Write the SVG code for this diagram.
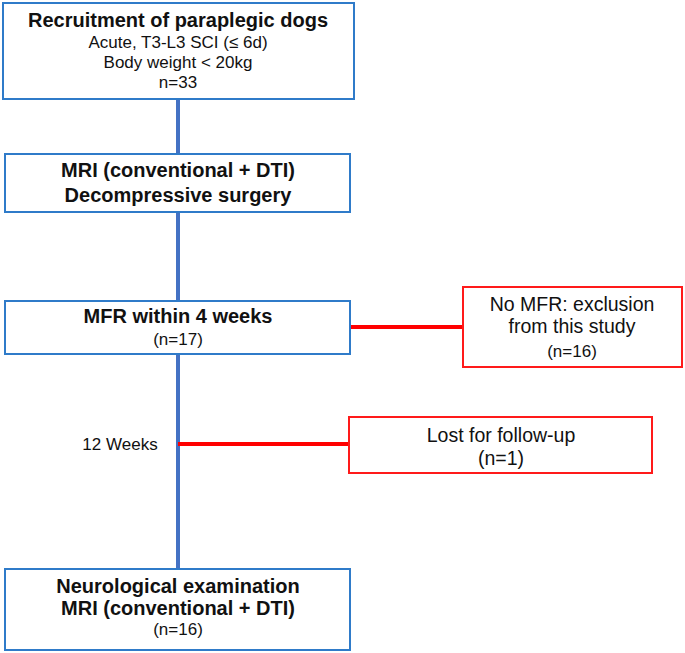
<svg xmlns="http://www.w3.org/2000/svg" width="685" height="653" viewBox="0 0 685 653">
<style>
text{font-family:"Liberation Sans",Arial,sans-serif;fill:#111;text-anchor:middle}
.b{font-weight:bold;font-size:20px}
.n{font-size:17px}
.r{font-size:19.5px}
.bb{fill:#fff;stroke:#2F7BC9;stroke-width:2}
.rb{fill:#fff;stroke:#FF1A1A;stroke-width:2}
.bl{stroke:#4472C4;stroke-width:4}
.rl{stroke:#FF0000;stroke-width:4}
</style>
<rect width="685" height="653" fill="#fff"/>
<g id="connectors">
<line class="bl" x1="178" y1="99" x2="178" y2="569"/>
<line class="rl" x1="350" y1="327" x2="463" y2="327"/>
<line class="rl" x1="178" y1="444" x2="349" y2="444"/>
</g>
<g id="recruitment">
<rect class="bb" x="3" y="3" width="351" height="96"/>
<text class="b" x="178" y="27">Recruitment of paraplegic dogs</text>
<text class="n" x="178" y="48">Acute, T3-L3 SCI (≤ 6d)</text>
<text class="n" x="178" y="68">Body weight &lt; 20kg</text>
<text class="n" x="178" y="88">n=33</text>
</g>
<g id="mri1">
<rect class="bb" x="5" y="154" width="345" height="58"/>
<text class="b" x="178" y="177">MRI (conventional + DTI)</text>
<text class="b" x="178" y="202">Decompressive surgery</text>
</g>
<g id="mfr">
<rect class="bb" x="5" y="301" width="345" height="53"/>
<text class="b" x="178" y="323">MFR within 4 weeks</text>
<text class="n" x="178" y="345">(n=17)</text>
</g>
<g id="exclusion">
<rect class="rb" x="463" y="287" width="219" height="80"/>
<text class="r" x="572" y="311">No MFR: exclusion</text>
<text class="r" x="572" y="333">from this study</text>
<text class="n" x="572" y="357">(n=16)</text>
</g>
<g id="weeks">
<text class="n" x="120" y="450">12 Weeks</text>
</g>
<g id="lost">
<rect class="rb" x="349" y="417" width="303" height="56"/>
<text class="r" x="501" y="442">Lost for follow-up</text>
<text class="r" x="501" y="465">(n=1)</text>
</g>
<g id="final">
<rect class="bb" x="5" y="569" width="345" height="81"/>
<text class="b" x="178" y="593">Neurological examination</text>
<text class="b" x="178" y="615">MRI (conventional + DTI)</text>
<text class="n" x="178" y="635">(n=16)</text>
</g>
</svg>
